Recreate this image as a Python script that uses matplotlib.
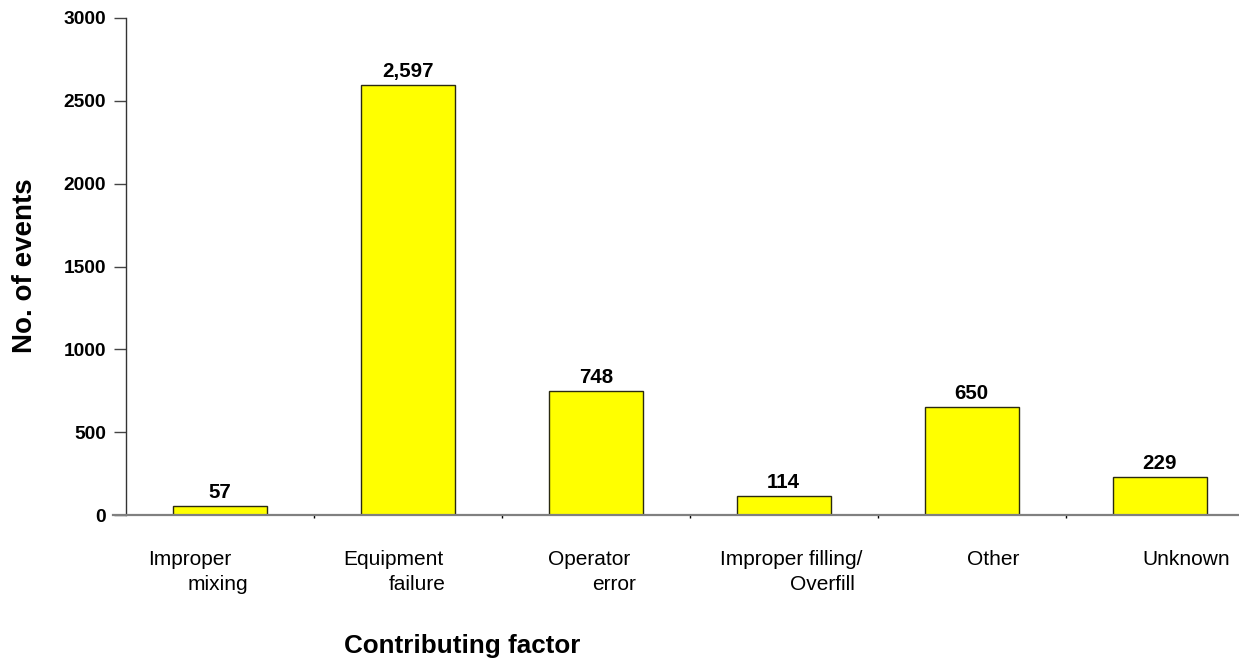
import matplotlib
matplotlib.use("Agg")
import matplotlib.pyplot as plt

plt.rcParams['font.family'] = ['Liberation Sans', 'DejaVu Sans']

# Data
line1 = ["Improper", "Equipment", "Operator", "Improper filling/", "Other", "Unknown"]
line2 = ["mixing", "failure", "error", "Overfill", "", ""]
events = [57, 2597, 748, 114, 650, 229]
yticks = [0, 500, 1000, 1500, 2000, 2500, 3000]

# Horizontal offsets (pixels) of each label line from its category centre
off1 = [-30, -14, -7, 7, 21, 26]
off2 = [-2, 9, 18, 39, 0, 0]

W, H, DPI = 1239, 665, 100
fig = plt.figure(figsize=(W / DPI, H / DPI), dpi=DPI)
left, bottom, top = 125.7, 515, 18
ax = fig.add_axes([left / W, (H - bottom) / H, 188 * 6 / W, (bottom - top) / H])

x = list(range(len(events)))
ax.bar(x, events, width=0.5, color='#ffff00', edgecolor='#2a2a10', linewidth=1.0, zorder=3)

ax.set_xlim(-0.5, 5.5)
ax.set_ylim(0, 3000)
ax.set_yticks(yticks)
ax.set_yticklabels([str(v) for v in yticks], fontsize=13.8, fontweight='bold')
ax.tick_params(axis='y', direction='out', length=9, width=1.0, color='#444444', pad=5.3)

ax.set_xticks([])
ax.set_xticks([i + 0.5 for i in x[:-1]], minor=True)
ax.tick_params(axis='x', which='minor', direction='out', length=1.8, width=1.0, color='#000000')

for s in ['top', 'right']:
    ax.spines[s].set_visible(False)
ax.spines['left'].set_color('#333333')
ax.spines['left'].set_linewidth(1.0)
ax.spines['bottom'].set_color('#808080')
ax.spines['bottom'].set_linewidth(1.6)
ax.spines['bottom'].set_bounds(-0.5 - 12.7 / 188, 5.5)
ax.spines['bottom'].set_zorder(4)

# Value labels above bars
for i, v in zip(x, events):
    ax.annotate(f"{v:,}", xy=(i, v), xytext=(0, 8), textcoords='offset pixels',
                ha='center', va='baseline', fontsize=14.8, fontweight='bold')

# Two-line category labels
for i in x:
    ax.annotate(line1[i], xy=(i, 0), xytext=(off1[i], -50), textcoords='offset pixels',
                ha='center', va='baseline', fontsize=15, annotation_clip=False)
    if line2[i]:
        ax.annotate(line2[i], xy=(i, 0), xytext=(off2[i], -75), textcoords='offset pixels',
                    ha='center', va='baseline', fontsize=15, annotation_clip=False)

fig.text(25 / W, (H - 266) / H, "No. of events", rotation=90, ha='center', va='center',
         fontsize=20, fontweight='bold')
fig.text(462 / W, 12 / H, "Contributing factor", ha='center', va='baseline',
         fontsize=18.7, fontweight='bold')

fig.savefig("out.png", dpi=DPI, facecolor='white')
